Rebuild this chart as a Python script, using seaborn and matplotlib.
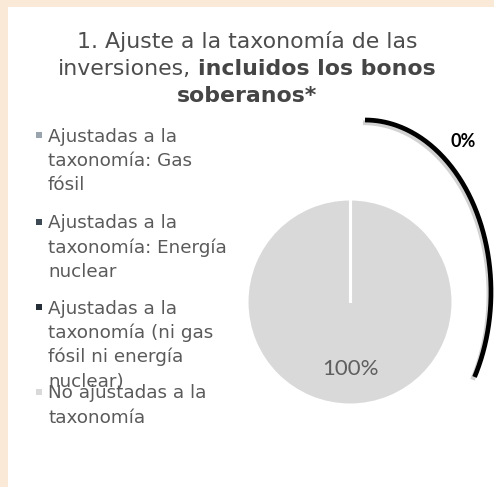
import numpy as np
import matplotlib
matplotlib.use("Agg")
import matplotlib.pyplot as plt
import matplotlib.patheffects as pe
from matplotlib.patches import Rectangle
import seaborn as sns

# Chart content
title_line1 = "1. Ajuste a la taxonomía de las"
title_line2_regular = "inversiones,"
title_line2_bold = "incluidos los bonos"
title_line3_bold = "soberanos*"

categories = [
    "Ajustadas a la\ntaxonomía: Gas\nfósil",
    "Ajustadas a la\ntaxonomía: Energía\nnuclear",
    "Ajustadas a la\ntaxonomía (ni gas\nfósil ni energía\nnuclear)",
    "No ajustadas a la\ntaxonomía",
]
shares = [0, 0, 0, 100]
colors = ["#9AA4AE", "#3D4954", "#262F38", "#D9D9D9"]

sns.set_theme(style="white")
plt.rcParams["font.family"] = ["DejaVu Sans"]

W, H = 494, 487
fig = plt.figure(figsize=(W / 100, H / 100), dpi=100)
fig.patch.set_facecolor("#FBE9D7")

# white content panel
fig.add_artist(Rectangle((8 / W, 0), 1 - 8 / W, 1 - 7 / H, transform=fig.transFigure,
                         facecolor="white", edgecolor="none", zorder=-1))

# pie
cx, cy, r = 350, 302, 103
ax = fig.add_axes([(cx - r) / W, (H - cy - r) / H, 2 * r / W, 2 * r / H])
ax.set_facecolor("none")
wedges, texts, autotexts = ax.pie(
    shares, colors=colors, startangle=90, counterclock=False,
    wedgeprops=dict(edgecolor="white", linewidth=2.2),
    autopct=lambda p: f"{p:.0f}%" if p > 0 else "",
    pctdistance=0.65,
    textprops=dict(color="#5F5F5F", fontsize=16, family="Lato"),
)
# slice boundaries (a full-circle wedge has no radial edge of its own)
for w in wedges:
    for ang in (w.theta1, w.theta2):
        a = np.radians(ang)
        ax.plot([0, np.cos(a)], [0, np.sin(a)], color="white", lw=2.2,
                solid_capstyle="butt", zorder=3)
ax.set_xlim(-1, 1)
ax.set_ylim(-1, 1)
ax.set_aspect("equal")
ax.axis("off")

# overlay in pixel coordinates for text and decorations
ov = fig.add_axes([0, 0, 1, 1])
ov.set_facecolor("none")
ov.set_xlim(0, W)
ov.set_ylim(H, 0)
ov.axis("off")

title_color = "#4D4D4D"
tsize = 15.8
tx = 247
ov.text(tx, 48, title_line1, ha="center", va="baseline", fontsize=tsize, color=title_color)

renderer = fig.canvas.get_renderer()
t_a = ov.text(0, 75, title_line2_regular, ha="left", va="baseline", fontsize=tsize, color=title_color)
t_b = ov.text(0, 75, title_line2_bold, ha="left", va="baseline", fontsize=tsize,
              color="#454545", fontweight="bold")
sp1 = ov.text(0, 0, "a a", fontsize=tsize)
sp2 = ov.text(0, 0, "aa", fontsize=tsize)
space_w = sp1.get_window_extent(renderer).width - sp2.get_window_extent(renderer).width
sp1.remove()
sp2.remove()
wa = t_a.get_window_extent(renderer).width
wb = t_b.get_window_extent(renderer).width
x0 = tx - (wa + space_w + wb) / 2
t_a.set_x(x0)
t_b.set_x(x0 + wa + space_w)
ov.text(tx, 102, title_line3_bold, ha="center", va="baseline", fontsize=tsize,
        color="#454545", fontweight="bold")

# legend entries
legend_baselines = [141.7, 228.5, 313.5, 398.5]
line_step = 24.4
for label, col, yb in zip(categories, colors, legend_baselines):
    ov.scatter([38.5], [yb - 7], marker="s", s=20, color=col, linewidths=0)
    for i, line in enumerate(label.split("\n")):
        ov.text(48, yb + i * line_step, line, ha="left", va="baseline",
                fontsize=13.2, color="#5A5A5A")

# bracket arc marking the taxonomy-aligned share
theta = np.radians(np.linspace(-90, 29.6, 200))
ax_x = 365 + 126 * np.cos(theta)
ax_y = 292 + 172 * np.sin(theta)
ov.plot(ax_x, ax_y, color="black", lw=3.4, solid_capstyle="butt",
        path_effects=[pe.SimpleLineShadow(offset=(-1.5, -2), shadow_color="gray", alpha=0.35),
                      pe.Normal()])
aligned = sum(shares[:3])
ov.text(450, 146.7, f"{aligned:.0f}%", ha="left", va="baseline", fontsize=13,
        fontweight="bold", color="black", family="Lato")

fig.savefig("out.png", dpi=100, facecolor=fig.get_facecolor())
